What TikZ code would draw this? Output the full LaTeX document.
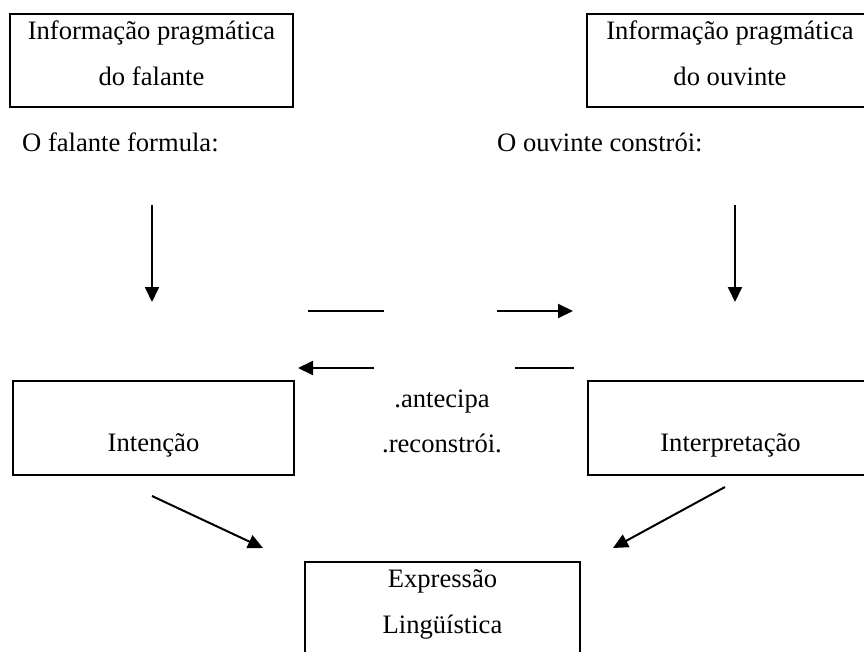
\documentclass[tikz,border=0pt]{standalone}
\usepackage{fontspec}
\setmainfont{Liberation Serif}
\usetikzlibrary{arrows.meta, positioning, calc}

\begin{document}
\begin{tikzpicture}[
  x=1pt, y=-1pt,
  >={Triangle[length=15pt, width=14pt]},
  box/.style={draw, line width=2.5pt, rectangle, inner sep=0pt},
  txt/.style={font=\fontsize{26.6}{30}\selectfont, inner sep=0pt, anchor=base},
  arrow/.style={->, line width=2pt},
  plain/.style={line width=2pt}
]
\useasboundingbox (0,0) rectangle (864,652);

% Boxes
\node[box, minimum width=283pt, minimum height=93pt] (infoF) at (151.5,60.5) {};
\node[box, minimum width=286pt, minimum height=93pt] (infoO) at (730,60.5) {};
\node[box, minimum width=281pt, minimum height=94pt] (intencao) at (153.5,428) {};
\node[box, minimum width=285pt, minimum height=94pt] (interp) at (730.5,428) {};
\node[box, minimum width=275pt, minimum height=110pt] (expr) at (442.5,617) {};

% Texts in the boxes
\node[txt] (infoF1) at (151.5,40) {Informação pragmática};
\node[txt] (infoF2) at (151.5,86) {do falante};
\node[txt] (infoO1) at (730,40) {Informação pragmática};
\node[txt] (infoO2) at (730,86) {do ouvinte};
\node[txt] (intencaoT) at (153.5,451) {Intenção};
\node[txt] (interpT) at (730.5,451) {Interpretação};
\node[txt] (expr1) at (442.5,587) {Expressão};
\node[txt] (expr2) at (442.5,633) {Lingüística};

% Free texts
\node[txt, anchor=base west] (falante) at (22,152) {O falante formula:};
\node[txt, anchor=base west] (ouvinte) at (497,152) {O ouvinte constrói:};
\node[txt] (antecipa) at (442,407) {.antecipa};
\node[txt] (reconstroi) at (442,452) {.reconstrói.};

% Connector ends
\coordinate (fTop) at (152,205);
\coordinate (fBot) at (152,302);
\coordinate (oTop) at (735,205);
\coordinate (oBot) at (735,302);
\coordinate (l1a) at (308,311);
\coordinate (l1b) at (384,311);
\coordinate (a1a) at (497,311);
\coordinate (a1b) at (573,311);
\coordinate (a2a) at (374,368);
\coordinate (a2b) at (298,368);
\coordinate (l2a) at (515,368);
\coordinate (l2b) at (574,368);
\coordinate (dLa) at (152,496);
\coordinate (dLb) at (263,548);
\coordinate (dRa) at (725,487);
\coordinate (dRb) at (613,548);

% Arrows
\draw[arrow] (fTop) -- (fBot);
\draw[arrow] (oTop) -- (oBot);
\draw[plain] (l1a) -- (l1b);
\draw[arrow] (a1a) -- (a1b);
\draw[arrow] (a2a) -- (a2b);
\draw[plain] (l2a) -- (l2b);
\draw[arrow] (dLa) -- (dLb);
\draw[arrow] (dRa) -- (dRb);

\end{tikzpicture}
\end{document}
